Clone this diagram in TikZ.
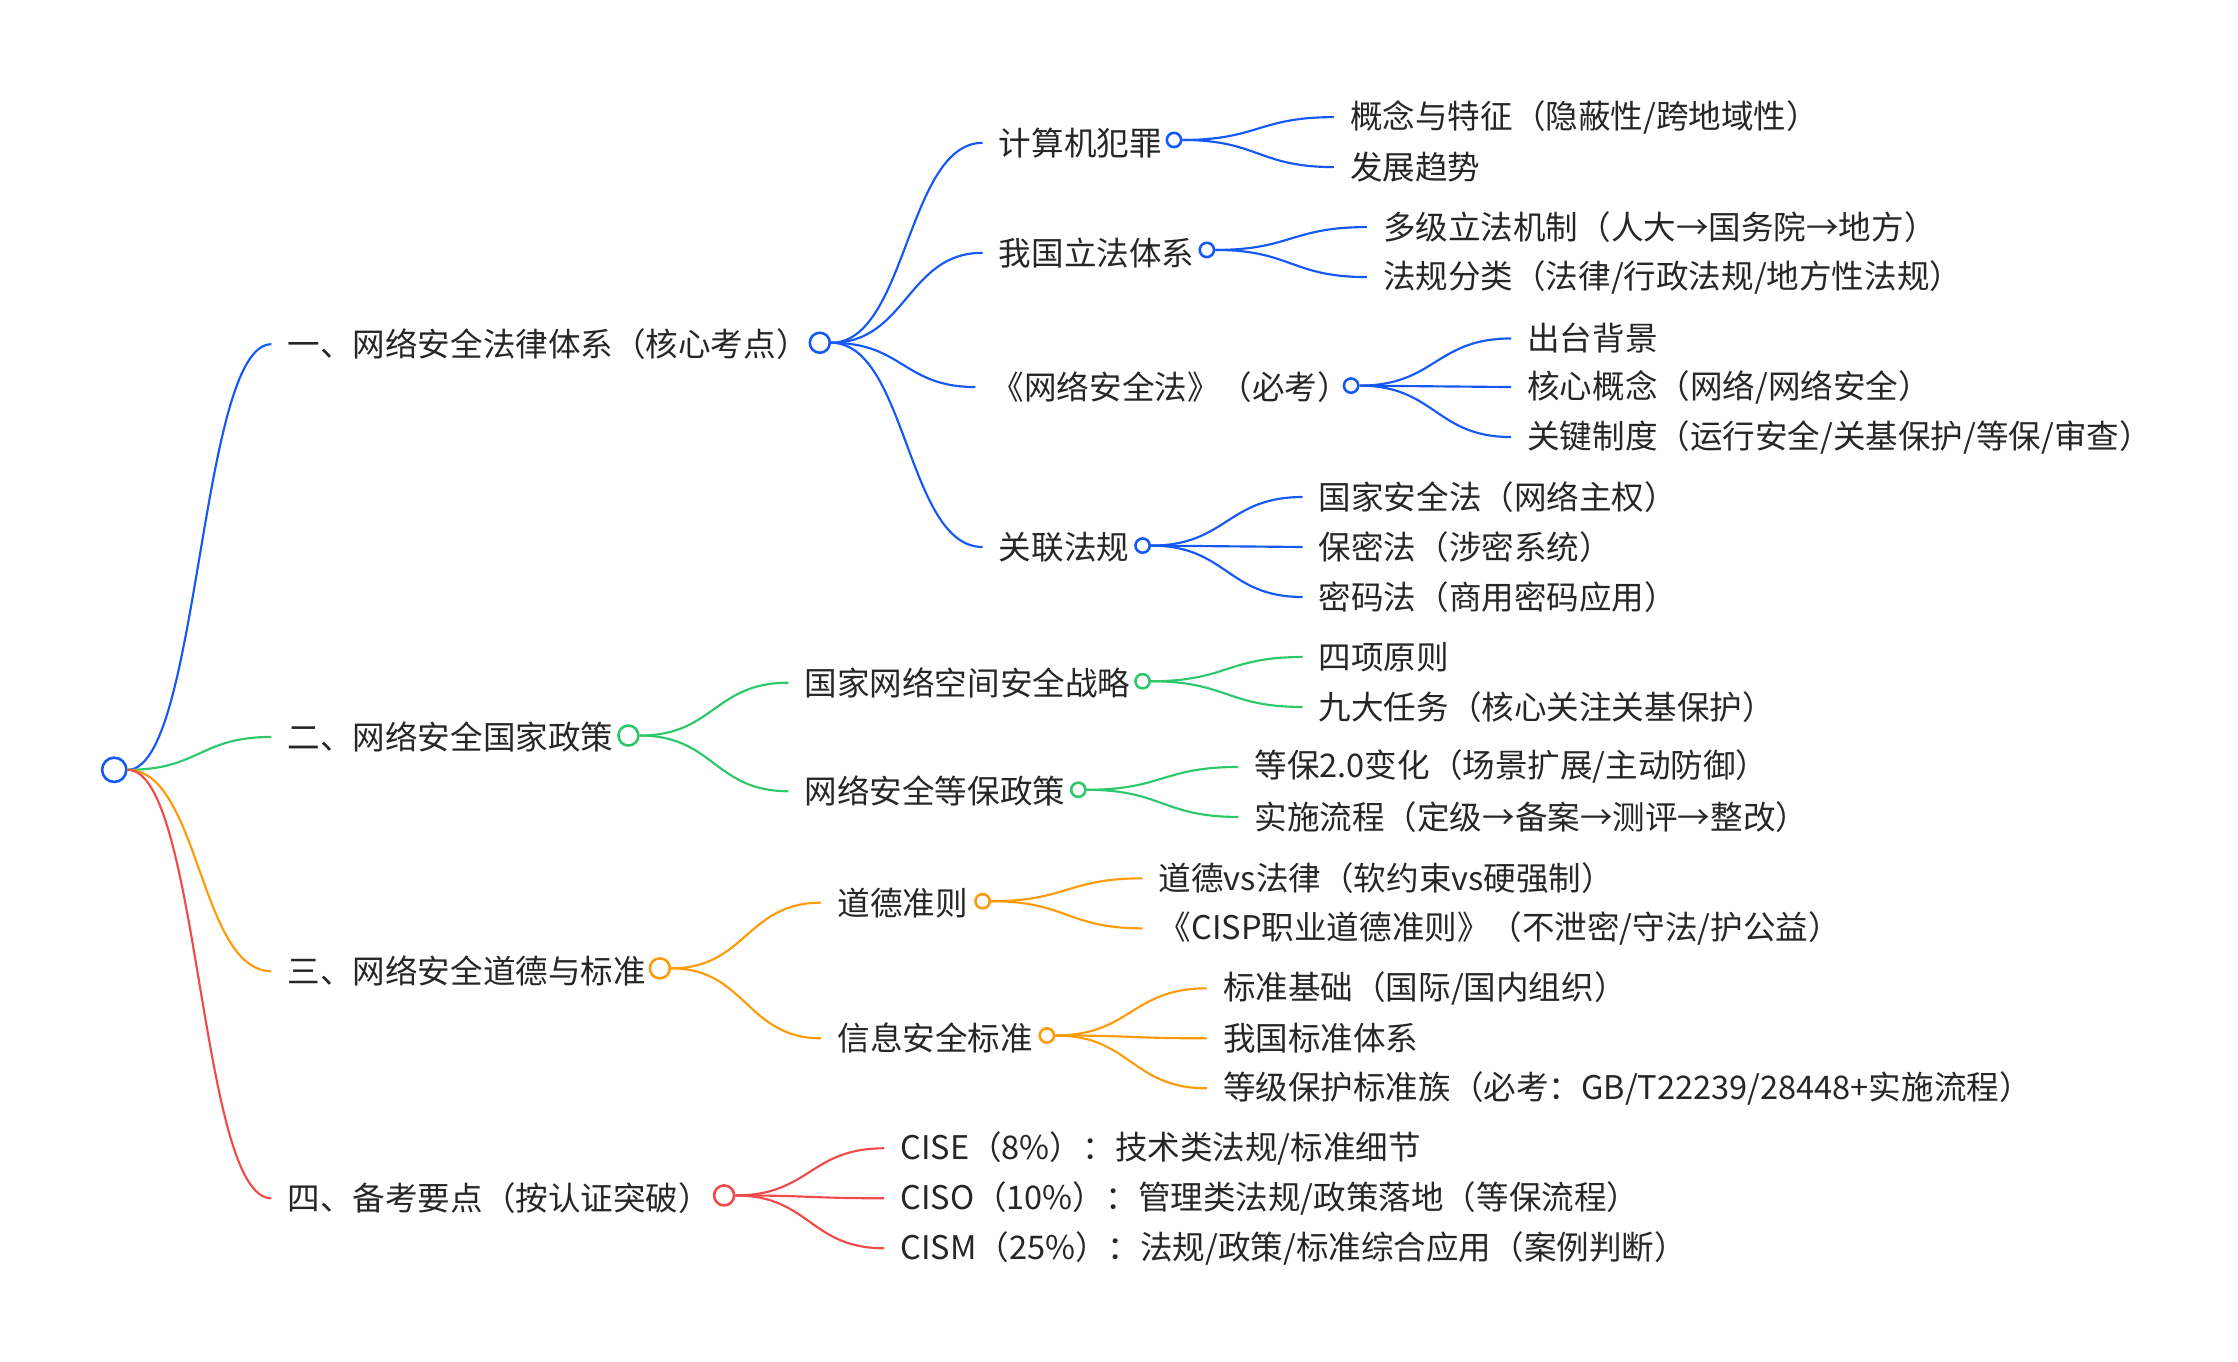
\documentclass[tikz,border=0pt]{standalone}
\usepackage{fontspec}
\usetikzlibrary{calc}
\setmainfont{Noto Sans CJK SC}
\begin{document}
\begin{tikzpicture}[x=0.5pt,y=-0.5pt,
 t/.style={anchor=west,inner xsep=5.5pt,inner ysep=0pt,font=\fontsize{11.4}{13}\selectfont,text=black!85},
 c1/.style={circle,draw,line width=0.9pt,fill=white,minimum size=7pt,inner sep=0pt},
 c2/.style={circle,draw,line width=0.9pt,fill=white,minimum size=5pt,inner sep=0pt},
 ln/.style={line width=0.75pt},
 cv/.style={to path={let \p1=(\tikztostart),\p2=(\tikztotarget) in .. controls ({0.5*\x1+0.5*\x2},\y1) and ({0.5*\x1+0.5*\x2},\y2) .. (\tikztotarget)}}]
\useasboundingbox (0,0) rectangle (1567,953);
\definecolor{cb}{HTML}{1558F5}\definecolor{cg}{HTML}{2DC86A}\definecolor{co}{HTML}{FF9A0A}\definecolor{cr}{HTML}{F04B4B}
\node[c1,minimum size=8.5pt,draw=cb] (root) at (80,539) {};
% A
\node[t] (A) at (190,241) {一、网络安全法律体系（核心考点）};
\node[c1,draw=cb] (Ac) at (574,240) {};
\node[t] (A1) at (688,100) {计算机犯罪}; \node[c2,draw=cb] (A1c) at (822,98) {};
\node[t] (A11) at (934,82) {概念与特征（隐蔽性/跨地域性）};
\node[t] (A12) at (934,117) {发展趋势};
\node[t] (A2) at (688,177) {我国立法体系}; \node[c2,draw=cb] (A2c) at (845,175) {};
\node[t] (A21) at (957,159) {多级立法机制（人大→国务院→地方）};
\node[t] (A22) at (957,194) {法规分类（法律/行政法规/地方性法规）};
\node[t] (A3) at (683,271) {《网络安全法》（必考）}; \node[c2,draw=cb] (A3c) at (946,270) {};
\node[t] (A31) at (1058,237) {出台背景};
\node[t] (A32) at (1058,271) {核心概念（网络/网络安全）};
\node[t] (A33) at (1058,306) {关键制度（运行安全/关基保护/等保/审查）};
\node[t] (A4) at (688,383) {关联法规}; \node[c2,draw=cb] (A4c) at (800,382) {};
\node[t] (A41) at (912,348) {国家安全法（网络主权）};
\node[t] (A42) at (912,383) {保密法（涉密系统）};
\node[t] (A43) at (912,418) {密码法（商用密码应用）};
\begin{scope}[ln,cb,cv]
\draw (root.east) to (A.west);
\foreach \a in {A1,A2,A3,A4} \draw (Ac.east) to (\a.west);
\foreach \a in {A11,A12} \draw (A1c.east) to (\a.west);
\foreach \a in {A21,A22} \draw (A2c.east) to (\a.west);
\foreach \a in {A31,A32,A33} \draw (A3c.east) to (\a.west);
\foreach \a in {A41,A42,A43} \draw (A4c.east) to (\a.west);
\end{scope}
% B
\node[t] (B) at (190,516) {二、网络安全国家政策};
\node[c1,draw=cg] (Bc) at (440,515) {};
\node[t] (B1) at (552,478) {国家网络空间安全战略}; \node[c2,draw=cg] (B1c) at (800,477) {};
\node[t] (B11) at (912,460) {四项原则};
\node[t] (B12) at (912,495) {九大任务（核心关注关基保护）};
\node[t] (B2) at (552,554) {网络安全等保政策}; \node[c2,draw=cg] (B2c) at (755,553) {};
\node[t] (B21) at (867,537) {等保2.0变化（场景扩展/主动防御）};
\node[t] (B22) at (867,572) {实施流程（定级→备案→测评→整改）};
\begin{scope}[ln,cg,cv]
\draw (root.east) to (B.west);
\foreach \a in {B1,B2} \draw (Bc.east) to (\a.west);
\foreach \a in {B11,B12} \draw (B1c.east) to (\a.west);
\foreach \a in {B21,B22} \draw (B2c.east) to (\a.west);
\end{scope}
% C
\node[t] (C) at (190,680) {三、网络安全道德与标准};
\node[c1,draw=co] (Cc) at (462,678) {};
\node[t] (C1) at (575,632) {道德准则}; \node[c2,draw=co] (C1c) at (688,631) {};
\node[t] (C11) at (800,615) {道德vs法律（软约束vs硬强制）};
\node[t] (C12) at (800,650) {《CISP职业道德准则》（不泄密/守法/护公益）};
\node[t] (C2) at (575,727) {信息安全标准}; \node[c2,draw=co] (C2c) at (733,725) {};
\node[t] (C21) at (845,692) {标准基础（国际/国内组织）};
\node[t] (C22) at (845,727) {我国标准体系};
\node[t] (C23) at (845,762) {等级保护标准族（必考：GB/T22239/28448+实施流程）};
\begin{scope}[ln,co,cv]
\draw (root.east) to (C.west);
\foreach \a in {C1,C2} \draw (Cc.east) to (\a.west);
\foreach \a in {C11,C12} \draw (C1c.east) to (\a.west);
\foreach \a in {C21,C22,C23} \draw (C2c.east) to (\a.west);
\end{scope}
% D
\node[t] (D) at (190,839) {四、备考要点（按认证突破）};
\node[c1,draw=cr] (Dc) at (507,837) {};
\node[t] (D1) at (619,804) {CISE（8\%）：技术类法规/标准细节};
\node[t] (D2) at (619,839) {CISO（10\%）：管理类法规/政策落地（等保流程）};
\node[t] (D3) at (619,874) {CISM（25\%）：法规/政策/标准综合应用（案例判断）};
\begin{scope}[ln,cr,cv]
\draw (root.east) to (D.west);
\foreach \a in {D1,D2,D3} \draw (Dc.east) to (\a.west);
\end{scope}
\end{tikzpicture}
\end{document}
